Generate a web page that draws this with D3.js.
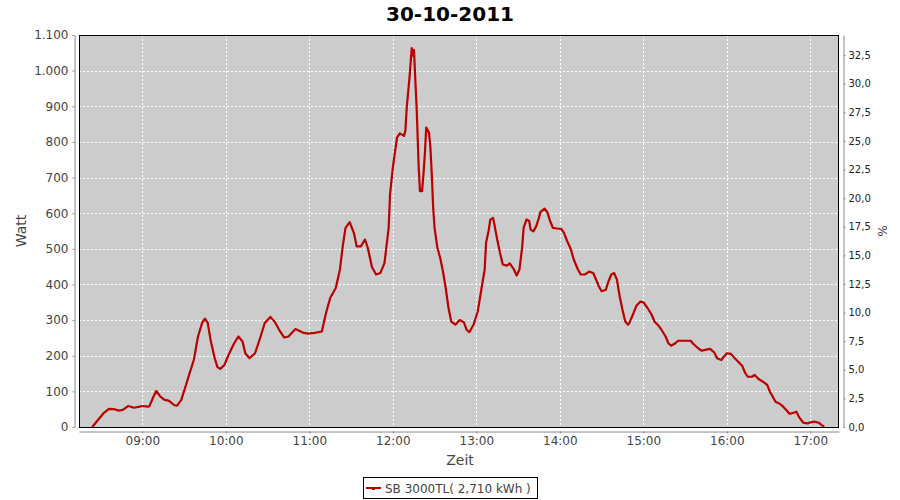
<!DOCTYPE html>
<html><head><meta charset="utf-8">
<script src="https://cdn.jsdelivr.net/npm/d3@7"></script>
<style>
html,body{margin:0;padding:0;background:#fff;}
svg{display:block;font-family:"DejaVu Sans",sans-serif;}
</style></head>
<body><svg id="c" width="900" height="500"></svg>
<script>
const title = "30-10-2011";
const seriesName = "SB 3000TL( 2,710 kWh )";
const times = ["08:24","08:29","08:32","08:36","08:40","08:43","08:46","08:50","08:54","08:58","09:00","09:04","09:05","09:08","09:10","09:13","09:16","09:19","09:23","09:25","09:28","09:31","09:34","09:37","09:40","09:43","09:45","09:47","09:49","09:52","09:54","09:56","09:59","10:02","10:06","10:09","10:12","10:14","10:17","10:21","10:25","10:28","10:32","10:35","10:39","10:42","10:45","10:50","10:56","10:59","11:04","11:09","11:12","11:15","11:19","11:22","11:24","11:26","11:29","11:32","11:34","11:37","11:40","11:42","11:45","11:48","11:51","11:54","11:56","11:57","11:58","12:00","12:02","12:03","12:05","12:08","12:09","12:10","12:12","12:13:36","12:14:18","12:15:12","12:16:12","12:17:12","12:18:36","12:19:30","12:21:00","12:22","12:23","12:24","12:26","12:27","12:28","12:29","12:30","12:32","12:34","12:36","12:38","12:40","12:42","12:45","12:48","12:51","12:53","12:55","12:58","13:01","13:03","13:04","13:06","13:07","13:09","13:10","13:12","13:13","13:15","13:17","13:19","13:22","13:24","13:27","13:29","13:31","13:33","13:34","13:36","13:38","13:39","13:41","13:43","13:45","13:46","13:49","13:51","13:53","13:55","13:58","14:01","14:03","14:05","14:08","14:10","14:13","14:15","14:18","14:21","14:24","14:26","14:28","14:30","14:33","14:35","14:37","14:39","14:41","14:43","14:45","14:47","14:49","14:50","14:53","14:55","14:58","15:00","15:03","15:06","15:08","15:11","15:13","15:16","15:18","15:20","15:23","15:25","15:30","15:34","15:36","15:40","15:42","15:45","15:48","15:51","15:53","15:56","15:58","16:00","16:03","16:05","16:08","16:11","16:13","16:15","16:18","16:20","16:23","16:26","16:29","16:31","16:33","16:35","16:38","16:40","16:43","16:45","16:48","16:50","16:52","16:55","16:58","17:00","17:03","17:06","17:08","17:10"];
const watts = [0,24,38,51,50,46,48,59,54,57,59,57,58,85,101,85,76,74,61,60,76,113,151,188,254,292,304,292,245,193,168,163,174,203,235,254,240,207,193,207,254,292,309,296,268,251,254,275,264,262,264,268,320,362,390,442,507,559,575,545,507,507,526,503,449,428,432,460,526,559,653,728,784,812,824,817,831,896,981,1063,1042,1058,971,887,728,662,662,709,765,840,826,784,709,615,559,503,475,437,390,334,296,287,300,294,273,266,287,324,371,395,442,517,554,582,587,568,526,489,456,453,459,442,425,442,507,559,582,578,554,549,563,587,603,613,603,578,559,557,556,545,524,498,470,442,428,428,436,432,414,395,381,385,409,428,432,414,367,329,296,287,292,320,340,352,350,334,315,296,284,273,254,235,228,235,242,242,242,233,219,214,217,219,209,193,188,198,207,205,196,184,172,153,141,141,146,134,127,118,99,85,71,65,59,46,37,40,43,27,12,10,13,15,12,6,1];
const wattTicks = [0,100,200,300,400,500,600,700,800,900,1000,1100];
const pctTicks = [0,2.5,5,7.5,10,12.5,15,17.5,20,22.5,25,27.5,30,32.5];
const hourTicks = ["09:00","10:00","11:00","12:00","13:00","14:00","15:00","16:00","17:00"];
const yLabel = "Watt", y2Label = "%", xLabel = "Zeit";

const parse = s => d3.timeParse(s.length > 5 ? "%H:%M:%S" : "%H:%M")(s);
const data = times.map((t,i)=>({t:parse(t), w:watts[i]}));

const svg = d3.select("#c");
const L=79, R=839, T=35, B=427;
const x = d3.scaleTime().domain([parse("08:14:30"), parse("17:20:36")]).range([L,R]);
const y = d3.scaleLinear().domain([0,1100]).range([B,T]);
const y2 = d3.scaleLinear().domain([0,34.26]).range([B,T]);

svg.append("text").attr("x",450).attr("y",21).attr("text-anchor","middle")
  .attr("font-size",20).attr("font-weight","bold").attr("fill","#000").text(title);

svg.append("rect").attr("x",L).attr("y",T).attr("width",R-L).attr("height",B-T).attr("fill","#cccccc");

const g = svg.append("g");
g.selectAll("line.h").data(wattTicks.slice(1,-1).concat([1100])).join("line")
  .attr("x1",L).attr("x2",R).attr("y1",d=>Math.round(y(d))+0.5).attr("y2",d=>Math.round(y(d))+0.5)
  .attr("stroke","#fff").attr("stroke-dasharray","2,2").attr("shape-rendering","crispEdges");
g.selectAll("line.v").data(hourTicks.map(parse)).join("line")
  .attr("y1",T).attr("y2",B).attr("x1",d=>Math.round(x(d))+0.5).attr("x2",d=>Math.round(x(d))+0.5)
  .attr("stroke","#fff").attr("stroke-dasharray","2,2").attr("shape-rendering","crispEdges");

const line = d3.line().x(d=>x(d.t)).y(d=>y(d.w));
svg.append("path").datum(data).attr("d",line).attr("fill","none")
  .attr("stroke","#bb0000").attr("stroke-width",2.2).attr("stroke-linejoin","round");

svg.append("rect").attr("x",L+0.5).attr("y",T+0.5).attr("width",R-L-1).attr("height",B-T).attr("fill","none")
  .attr("stroke","#000").attr("stroke-width",1.2).attr("shape-rendering","crispEdges");

function styleAxis(sel, fs, col){
  sel.selectAll("path.domain").attr("stroke","#888");
  sel.selectAll(".tick line").attr("stroke","#888");
  sel.selectAll("text").attr("font-size",fs).attr("fill",col).attr("font-family","DejaVu Sans, sans-serif");
}
const yAxis = svg.append("g").attr("transform",`translate(${L-4.5},0)`)
  .call(d3.axisLeft(y).tickValues(wattTicks).tickSizeInner(2).tickSizeOuter(0).tickPadding(4)
    .tickFormat(d=>d3.format(",")(d).replace(/,/g,".")));
styleAxis(yAxis,12,"#444");
const y2Axis = svg.append("g").attr("transform",`translate(${R+4.5},0)`)
  .call(d3.axisRight(y2).tickValues(pctTicks).tickSizeInner(2).tickSizeOuter(0).tickPadding(3)
    .tickFormat(d=>d3.format(".1f")(d).replace(".",",")));
styleAxis(y2Axis,10,"#222");
const xAxis = svg.append("g").attr("transform",`translate(0,${B+4.5})`)
  .call(d3.axisBottom(x).tickValues(hourTicks.map(parse)).tickSizeInner(2).tickSizeOuter(0).tickPadding(3)
    .tickFormat(d3.timeFormat("%H:%M")));
styleAxis(xAxis,12,"#444");

svg.append("text").attr("transform","translate(26,231) rotate(-90)").attr("text-anchor","middle")
  .attr("font-size",14).attr("fill","#444").text(yLabel);
svg.append("text").attr("transform","translate(878,231) rotate(90)").attr("text-anchor","middle")
  .attr("font-size",12).attr("fill","#444").text(y2Label);
svg.append("text").attr("x",460).attr("y",465).attr("text-anchor","middle")
  .attr("font-size",14).attr("fill","#444").text(xLabel);

const lg = svg.append("g");
lg.append("rect").attr("x",363.5).attr("y",477.5).attr("width",174).attr("height",21)
  .attr("fill","#fff").attr("stroke","#000").attr("stroke-width",1);
lg.append("line").attr("x1",366).attr("x2",381).attr("y1",488).attr("y2",488).attr("stroke","#bb0000").attr("stroke-width",2);
lg.append("rect").attr("x",372).attr("y",487).attr("width",3).attr("height",3).attr("fill","#bb0000");
lg.append("text").attr("x",385).attr("y",493).attr("font-size",12).attr("fill","#444").text(seriesName);
</script></body></html>
